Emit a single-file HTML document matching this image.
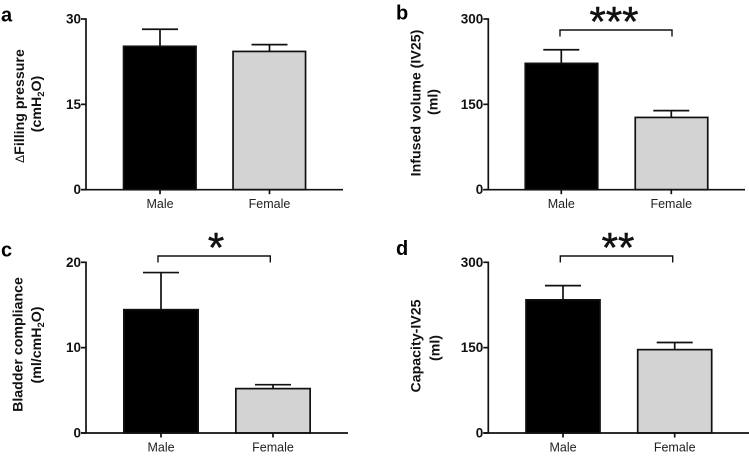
<!DOCTYPE html>
<html lang="en">
<head>
<meta charset="utf-8">
<title>Bladder measures by sex</title>
<style>
html,body{margin:0;padding:0;background:#fff;width:749px;height:458px;overflow:hidden}
svg{display:block;font-family:"Liberation Sans",Arial,sans-serif}
.tick{font-size:13.5px;font-weight:700;fill:#111;text-anchor:end}
.cat{font-size:12.5px;fill:#222;text-anchor:middle}
.title{font-size:14.2px;font-weight:700;fill:#111;text-anchor:middle}
.letter{font-size:20px;font-weight:700;fill:#000}
.star{font-size:42px;font-weight:400;fill:#111;text-anchor:middle;stroke:#111;stroke-width:.5}
</style>
</head>
<body>
<svg id="figure" width="749" height="458" viewBox="0 0 749 458" xmlns="http://www.w3.org/2000/svg"></svg>
<script>
const categories = ['Male', 'Female'];
const aMeans = [25.2, 24.3];
const aErrors = [3.0, 1.2];
const aTicks = [0, 15, 30];
const bMeans = [222, 127];
const bErrors = [24, 12];
const bTicks = [0, 150, 300];
const cMeans = [14.45, 5.2];
const cErrors = [4.35, 0.46];
const cTicks = [0, 10, 20];
const dMeans = [234, 146.5];
const dErrors = [25, 12.5];
const dTicks = [0, 150, 300];

const NS = 'http://www.w3.org/2000/svg';
const svg = document.getElementById('figure');
const fills = ['#000000', '#d3d3d3'];

function add(tag, attrs, parent, text) {
  const el = document.createElementNS(NS, tag);
  for (const k in attrs) el.setAttribute(k, attrs[k]);
  if (text !== undefined) el.textContent = text;
  (parent || svg).appendChild(el);
  return el;
}
function line(g, x1, y1, x2, y2, w) {
  return add('line', {x1, y1, x2, y2, stroke: '#111', 'stroke-width': w || 1.7}, g);
}

function drawPanel(p) {
  const g = add('g', {});
  
  
  const maxV = p.ticks[p.ticks.length - 1];
  const yScale = v => p.y0 - (v / maxV) * (p.y0 - p.yTop);
  const xCenter = i => p.x1 + i * p.step;

  const letter = add('text', {x: p.letterX, y: p.letterY, class: 'letter'}, g, p.id);
  
  

  // bars and error bars
  p.means.forEach((m, i) => {
    const cx = xCenter(i) + p.barShift;
    const top = yScale(m);
    const errTop = yScale(m + p.errors[i]);
    const ex = xCenter(i);
    const errStem = line(g, ex, top, ex, errTop);
    
    
    const errCap = line(g, ex - 18, errTop, ex + 18, errTop);
    
    
    const bar = add('rect', {x: cx - p.barW / 2, y: top, width: p.barW, height: p.y0 - top, fill: fills[i], stroke: '#111', 'stroke-width': 1.7}, g);
    
    
  });

  // y axis
  const yAxis = line(g, p.x0, p.yTop - 0.75, p.x0, p.y0 + 0.75);
  
  
  p.ticks.forEach(t => {
    const y = yScale(t);
    const tk = line(g, p.x0 - 5, y, p.x0, y);
    
    
    const lb = add('text', {x: p.x0 - 5, y: y + 4.5, class: 'tick'}, g, t);
    
    
  });

  // x axis
  const xAxis = line(g, p.x0 - 5, p.y0, p.xEnd, p.y0);
  
  
  categories.forEach((c, i) => {
    const x = xCenter(i);
    const tk = line(g, x, p.y0, x, p.y0 + 4.5);
    
    
    const lb = add('text', {x, y: p.y0 + 18.5, class: 'cat'}, g, c);
    
    
  });

  // y titles
  const t1 = add('text', {class: 'title', transform: 'translate(' + p.t1x + ',' + p.t1y + ') rotate(-90)'}, g);
  
  
  p.title1(t1);
  const t2 = add('text', {class: 'title', transform: 'translate(' + p.t2x + ',' + p.t2y + ') rotate(-90)'}, g);
  
  
  p.title2(t2);

  // significance bracket
  if (p.stars) {
    const br = add('path', {d: 'M' + p.brL + ' ' + (p.brY + 6.5) + 'V' + p.brY + 'H' + p.brR + 'V' + (p.brY + 6.5), fill: 'none', stroke: '#111', 'stroke-width': 1.4}, g);
    
    
    const st = add('text', {x: p.starX, y: p.starY, class: 'star'}, g, p.stars);
    
    
  }
}

function plain(s) { return el => { el.textContent = s; }; }
function water(pre) {
  return el => {
    add('tspan', {}, el, pre + 'H');
    add('tspan', {dy: 3, 'font-size': 9.5}, el, '2');
    add('tspan', {dy: -3}, el, 'O)');
  };
}

drawPanel({id: 'a', means: aMeans, errors: aErrors, ticks: aTicks, x0: 86, xEnd: 343, y0: 189.7, yTop: 19,
  x1: 160, step: 109.5, barW: 72.5, barShift: -0.2, letterX: 1, letterY: 21.5,
  t1x: 24, t1y: 106, t2x: 41, t2y: 104,
  title1: el => {
    add('tspan', {'font-weight': 400, 'font-size': 12}, el, 'Δ');
    add('tspan', {}, el, 'Filling pressure');
  },
  title2: water('(cm')});
drawPanel({id: 'b', means: bMeans, errors: bErrors, ticks: bTicks, x0: 488.3, xEnd: 745, y0: 189.7, yTop: 19,
  x1: 561.3, step: 110, barW: 72.5, barShift: 0.2, letterX: 396, letterY: 19.5,
  t1x: 420.5, t1y: 103, t2x: 437.5, t2y: 102,
  title1: plain('Infused volume (IV25)'), title2: plain('(ml)'),
  stars: '***', brL: 560, brR: 672, brY: 30, starX: 614, starY: 36});
drawPanel({id: 'c', means: cMeans, errors: cErrors, ticks: cTicks, x0: 86, xEnd: 348, y0: 433, yTop: 262.3,
  x1: 161, step: 112, barW: 74.3, barShift: 0, letterX: 1, letterY: 256.5,
  t1x: 22.5, t1y: 344.5, t2x: 41, t2y: 345,
  title1: plain('Bladder compliance'), title2: water('(ml/cm'),
  stars: '*', brL: 158, brR: 270.3, brY: 256, starX: 216, starY: 262});
drawPanel({id: 'd', means: dMeans, errors: dErrors, ticks: dTicks, x0: 488.3, xEnd: 749, y0: 433, yTop: 262.3,
  x1: 563, step: 111.7, barW: 74, barShift: 0, letterX: 396, letterY: 255,
  t1x: 420.5, t1y: 346, t2x: 439.5, t2y: 348,
  title1: plain('Capacity-IV25'), title2: plain('(ml)'),
  stars: '**', brL: 560.3, brR: 672.7, brY: 256, starX: 618, starY: 262});
</script>
</body>
</html>
